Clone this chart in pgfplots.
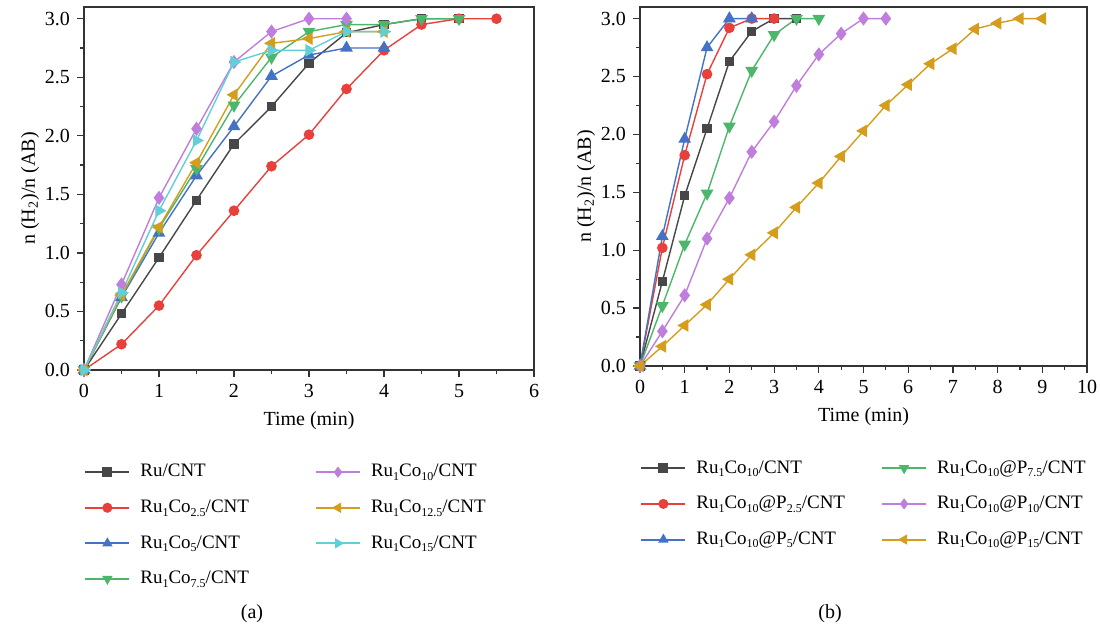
\documentclass[border=0pt]{standalone}
\usepackage{fontspec}
\setmainfont{Liberation Serif}
\usepackage{pgfplots}
\pgfplotsset{compat=1.18}
\definecolor{cK}{HTML}{474747}
\definecolor{cR}{HTML}{E8413C}
\definecolor{cB}{HTML}{4472C4}
\definecolor{cG}{HTML}{4CB76A}
\definecolor{cP}{HTML}{C07EDC}
\definecolor{cO}{HTML}{D49E1C}
\definecolor{cC}{HTML}{62CFD6}
\newcommand{\sub}[1]{\raisebox{-0.4ex}{\fontsize{6}{7}\selectfont #1}}
\pgfplotsset{
  sK/.style={color=cK, mark=square*, mark size=2pt},
  sR/.style={color=cR, mark=*, mark size=2.3pt},
  sB/.style={color=cB, mark=triangle*, mark size=3pt},
  sG/.style={color=cG, mark=triangle*, mark options={rotate=180}, mark size=3pt},
  sP/.style={color=cP, mark=diamond*, mark size=3pt},
  sO/.style={color=cO, mark=triangle*, mark options={rotate=90}, mark size=3pt},
  sC/.style={color=cC, mark=triangle*, mark options={rotate=-90}, mark size=3pt},
  legend image code/.code={\draw[mark repeat=2, mark phase=2, #1, line width=1pt, mark size=2pt] plot coordinates {(0pt,0pt)(11pt,0pt)(22pt,0pt)};},
  myaxis/.style={
    scale only axis, xmin=0, ymin=0, ymax=3.1,
    tick align=outside, tick pos=left,
    minor x tick num=1, minor y tick num=1,
    major tick length=3.5pt, minor tick length=2pt,
    axis line style={line width=0.8pt, color=black!80},
    every tick/.style={line width=0.6pt, color=black!80},
    ytick={0,0.5,1,1.5,2,2.5,3},
    yticklabel style={/pgf/number format/.cd, fixed, fixed zerofill, precision=1},
    /pgf/number format/assume math mode=true,
    ticklabel style={font=\fontsize{10}{12}\selectfont},
    label style={font=\fontsize{10}{12}\selectfont},
    ylabel style={yshift=-4pt},
    every axis plot/.append style={line width=0.7pt},
    xlabel={Time (min)},
    ylabel={n (H\textsubscript{2})/n (AB)},
    legend cell align=left,
    legend columns=2,
    legend style={draw=none, fill=none, font=\fontsize{9.5}{11}\selectfont,
      at={(axis description cs:0,0)}, anchor=north west, yshift=-45pt,
      inner sep=0pt, row sep=6pt,
      /tikz/every odd column/.append style={column sep=3pt}},
  }
}
\begin{document}
\begin{tikzpicture}
\useasboundingbox (0,0) rectangle (550pt,316pt);
\begin{axis}[myaxis, at={(42pt,131pt)}, anchor=south west,
  width=225pt, height=181.5pt, xmax=6, xtick={0,1,2,3,4,5,6},
  legend style={/tikz/every even column/.append style={column sep=31pt}}]
\addplot[sK, forget plot] coordinates {(0,0)(0.5,0.48)(1,0.96)(1.5,1.45)(2,1.93)(2.5,2.25)(3,2.62)(3.5,2.88)(4,2.95)(4.5,3.0)(5,3.0)};
\addplot[sR, forget plot] coordinates {(0,0)(0.5,0.22)(1,0.55)(1.5,0.98)(2,1.36)(2.5,1.74)(3,2.01)(3.5,2.40)(4,2.73)(4.5,2.95)(5,3.0)(5.5,3.0)};
\addplot[sB, forget plot] coordinates {(0,0)(0.5,0.62)(1,1.17)(1.5,1.66)(2,2.08)(2.5,2.51)(3,2.69)(3.5,2.75)(4,2.75)};
\addplot[sG, forget plot] coordinates {(0,0)(0.5,0.63)(1,1.21)(1.5,1.72)(2,2.26)(2.5,2.67)(3,2.89)(3.5,2.95)(4,2.95)(4.5,3.0)(5,3.0)};
\addplot[sP, forget plot] coordinates {(0,0)(0.5,0.73)(1,1.47)(1.5,2.06)(2,2.63)(2.5,2.89)(3,3.0)(3.5,3.0)};
\addplot[sO, forget plot] coordinates {(0,0)(0.5,0.64)(1,1.22)(1.5,1.77)(2,2.35)(2.5,2.79)(3,2.83)(3.5,2.89)(4,2.89)};
\addplot[sC, forget plot] coordinates {(0,0)(0.5,0.66)(1,1.36)(1.5,1.96)(2,2.63)(2.5,2.73)(3,2.73)(3.5,2.89)(4,2.89)};
\addlegendimage{sK}\addlegendentry{Ru/CNT}
\addlegendimage{sP}\addlegendentry{Ru\sub{1}Co\sub{10}/CNT}
\addlegendimage{sR}\addlegendentry{Ru\sub{1}Co\sub{2.5}/CNT}
\addlegendimage{sO}\addlegendentry{Ru\sub{1}Co\sub{12.5}/CNT}
\addlegendimage{sB}\addlegendentry{Ru\sub{1}Co\sub{5}/CNT}
\addlegendimage{sC}\addlegendentry{Ru\sub{1}Co\sub{15}/CNT}
\addlegendimage{sG}\addlegendentry{Ru\sub{1}Co\sub{7.5}/CNT}
\end{axis}
\begin{axis}[myaxis, at={(320pt,133pt)}, anchor=south west,
  width=223.5pt, height=179.5pt, xmax=10, xtick={0,1,...,10},
  legend style={/tikz/every even column/.append style={column sep=16pt}}]
\addplot[sK, forget plot] coordinates {(0,0)(0.5,0.73)(1,1.47)(1.5,2.05)(2,2.63)(2.5,2.89)(3,3.0)(3.5,3.0)};
\addplot[sR, forget plot] coordinates {(0,0)(0.5,1.02)(1,1.82)(1.5,2.52)(2,2.92)(2.5,3.0)(3,3.0)};
\addplot[sB, forget plot] coordinates {(0,0)(0.5,1.12)(1,1.96)(1.5,2.75)(2,3.0)(2.5,3.0)};
\addplot[sG, forget plot] coordinates {(0,0)(0.5,0.52)(1,1.05)(1.5,1.49)(2,2.07)(2.5,2.55)(3,2.86)(3.5,3.0)(4,3.0)};
\addplot[sP, forget plot] coordinates {(0,0)(0.5,0.30)(1,0.61)(1.5,1.10)(2,1.45)(2.5,1.85)(3,2.11)(3.5,2.42)(4,2.69)(4.5,2.87)(5,3.0)(5.5,3.0)};
\addplot[sO, forget plot] coordinates {(0,0)(0.5,0.17)(1,0.35)(1.5,0.53)(2,0.75)(2.5,0.96)(3,1.15)(3.5,1.37)(4,1.58)(4.5,1.81)(5,2.03)(5.5,2.25)(6,2.43)(6.5,2.61)(7,2.74)(7.5,2.91)(8,2.96)(8.5,3.0)(9,3.0)};
\addlegendimage{sK}\addlegendentry{Ru\sub{1}Co\sub{10}/CNT}
\addlegendimage{sG}\addlegendentry{Ru\sub{1}Co\sub{10}@P\sub{7.5}/CNT}
\addlegendimage{sR}\addlegendentry{Ru\sub{1}Co\sub{10}@P\sub{2.5}/CNT}
\addlegendimage{sP}\addlegendentry{Ru\sub{1}Co\sub{10}@P\sub{10}/CNT}
\addlegendimage{sB}\addlegendentry{Ru\sub{1}Co\sub{10}@P\sub{5}/CNT}
\addlegendimage{sO}\addlegendentry{Ru\sub{1}Co\sub{10}@P\sub{15}/CNT}
\end{axis}
\node[font=\fontsize{10}{12}\selectfont] at (126pt,9pt) {(a)};
\node[font=\fontsize{10}{12}\selectfont] at (415pt,9pt) {(b)};
\end{tikzpicture}
\end{document}
